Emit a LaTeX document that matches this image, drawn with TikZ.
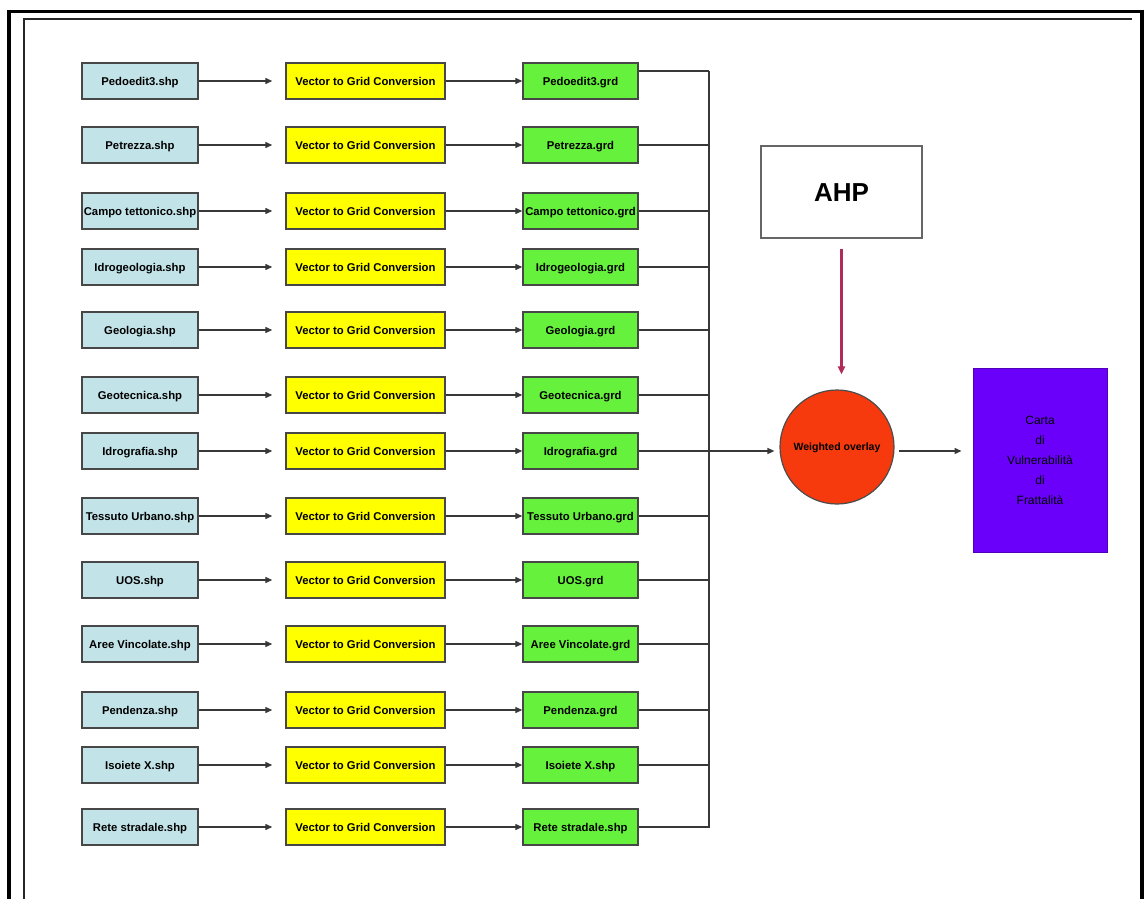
\documentclass[tikz,border=0pt]{standalone}
\usepackage{fontspec}
\setmainfont{Liberation Sans}
\usetikzlibrary{arrows.meta}
\definecolor{lblue}{HTML}{C2E3E8}
\definecolor{lyel}{HTML}{FFFF00}
\definecolor{lgrn}{HTML}{66F23C}
\definecolor{rorg}{HTML}{F63A0E}
\definecolor{vio}{HTML}{6A00FA}
\definecolor{crim}{HTML}{B02A5A}
\begin{document}
\begin{tikzpicture}[x=1pt,y=-1pt,
  boxbase/.style={draw=black!72, line width=1.4pt, inner sep=0pt, minimum height=36pt,
    text height=8.2pt, text depth=0pt,
    font=\fontsize{11.3}{13}\selectfont\bfseries},
  shpbox/.style={boxbase, fill=lblue, minimum width=116pt},
  vecbox/.style={boxbase, fill=lyel, minimum width=159pt},
  grdbox/.style={boxbase, fill=lgrn, minimum width=115pt},
  conn/.style={draw=black!78, line width=1.3pt},
  arr/.style={conn, -{Triangle[length=7pt,width=6pt]}},
  redarr/.style={draw=crim, line width=2.2pt, -{Triangle[length=8pt,width=7pt]}}
]
\useasboundingbox (0,0) rectangle (1146,899);
\fill[white] (0,0) rectangle (1146,899);
% frame
\draw[line width=3.2pt] (9,899) -- (9,11.6) -- (1142,11.6) -- (1142,899);
\draw[line width=2pt,black!85] (24,899) -- (24,19.5) -- (1132,19.5);
% bus
\coordinate (bustop) at (709,71);
\coordinate (busbot) at (709,828);
\draw[conn] (bustop) -- (busbot);
\foreach \yy/\a/\b [count=\i] in {
  81/Pedoedit3.shp/Pedoedit3.grd,
  145/Petrezza.shp/Petrezza.grd,
  211/Campo tettonico.shp/Campo tettonico.grd,
  267/Idrogeologia.shp/Idrogeologia.grd,
  330/Geologia.shp/Geologia.grd,
  395/Geotecnica.shp/Geotecnica.grd,
  451/Idrografia.shp/Idrografia.grd,
  516/Tessuto Urbano.shp/Tessuto Urbano.grd,
  580/UOS.shp/UOS.grd,
  644/Aree Vincolate.shp/Aree Vincolate.grd,
  710/Pendenza.shp/Pendenza.grd,
  765/Isoiete X.shp/Isoiete X.shp,
  827/Rete stradale.shp/Rete stradale.shp}{
  \node[shpbox] (s\i) at (140,\yy) {\a};
  \node[vecbox] (v\i) at (365.5,\yy) {Vector to Grid Conversion};
  \node[grdbox] (g\i) at (580.5,\yy) {\b};
  \draw[arr] (s\i.east) -- ([xshift=-13pt]v\i.west);
  \draw[arr] (v\i.east) -- (g\i.west);
}
\foreach \i in {2,3,4,5,6,8,9,10,11,12,13}{
  \draw[conn] (g\i.east) -- (g\i.east -| bustop);
}
\draw[conn] ([yshift=10pt]g1.east) -- (bustop);
% right part
\node[draw=black!60, line width=1.2pt, fill=white, minimum width=161pt, minimum height=92pt,
  inner sep=0pt, text height=19pt, text depth=0pt, font=\fontsize{26}{30}\selectfont\bfseries] (ahp) at (841.5,192) {AHP};
\node[circle, draw=black!70, line width=1.2pt, fill=rorg, minimum size=114pt, inner sep=0pt,
  text height=7.5pt, text depth=0pt, font=\fontsize{10.5}{12}\selectfont\bfseries] (wo) at (837,447) {Weighted overlay};
\node[draw=vio!75!black, line width=1pt, fill=vio, minimum width=134pt, minimum height=184pt,
  inner sep=0pt, align=center, font=\fontsize{12}{20}\selectfont] (carta) at (1040,460)
  {Carta\\di\\Vulnerabilità\\di\\Frattalità};
\draw[arr] (g7.east) -- ([xshift=-5pt]wo.west |- g7.east);
\draw[redarr] ([yshift=-10pt]ahp.south) -- ([yshift=15pt]ahp.south |- wo.north);
\draw[arr] ([xshift=4pt]wo.east |- g7.east) -- ([xshift=-11pt]carta.west |- g7.east);
\end{tikzpicture}
\end{document}
